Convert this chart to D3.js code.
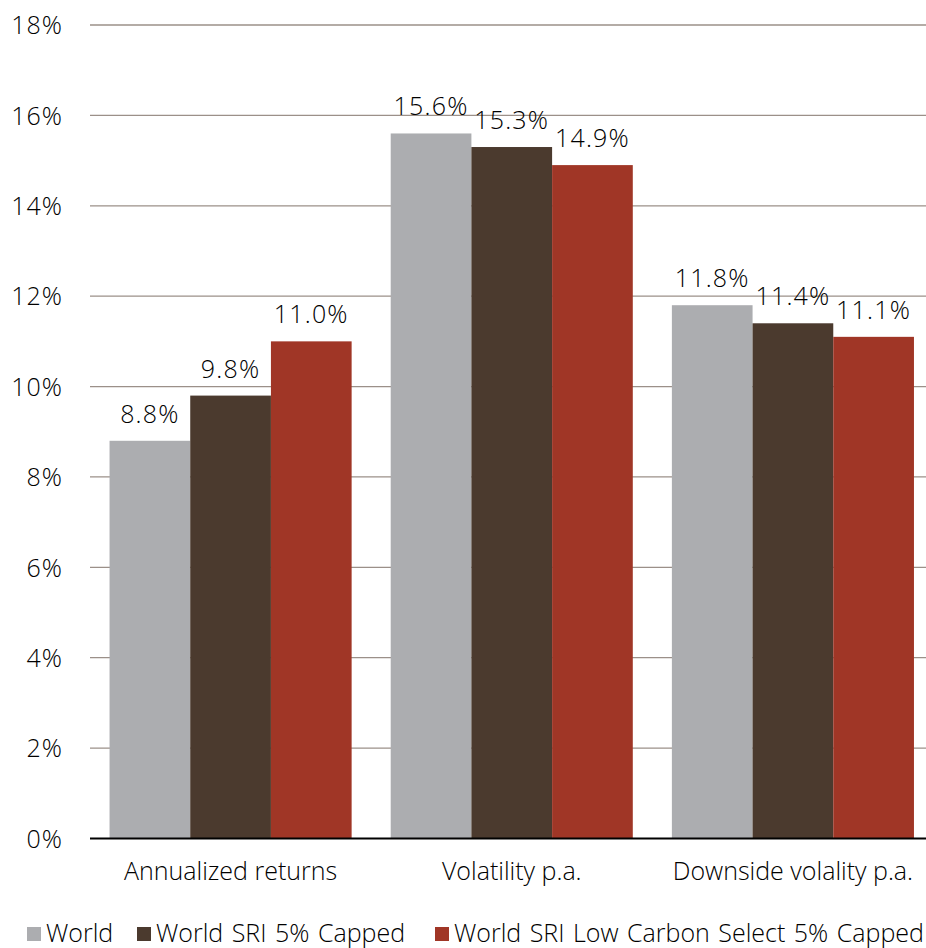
<!DOCTYPE html>
<html>
<head>
<meta charset="utf-8">
<script src="https://cdn.jsdelivr.net/npm/d3@7/dist/d3.min.js"></script>
<style>
  html, body { margin: 0; padding: 0; background: #fff; }
  svg { display: block; }
  svg text { font-family: "Open Sans", "Noto Sans", sans-serif; font-weight: 300; }
</style>
</head>
<body>
<svg id="chart" width="926" height="948"></svg>
<script>
// Performance and risk statistics, in percent
const categories = ["Annualized returns", "Volatility p.a.", "Downside volality p.a."];
const seriesNames = ["World", "World SRI 5% Capped", "World SRI Low Carbon Select 5% Capped"];
const world = [8.8, 15.6, 11.8];
const worldSri = [9.8, 15.3, 11.4];
const worldSriLowCarbon = [11.0, 14.9, 11.1];
const yTicks = [0, 2, 4, 6, 8, 10, 12, 14, 16, 18];
const colors = ["#acadb0", "#4b3a2e", "#a03626"];

const fontSize = 25;
const textColor = "#000";

const seriesValues = [world, worldSri, worldSriLowCarbon];
const rows = categories.map((c, i) => ({
  category: c,
  values: seriesNames.map((s, j) => ({ series: s, idx: j, value: seriesValues[j][i] }))
}));

const svg = d3.select("#chart");
const plotLeft = 90, plotRight = 933.5, plotTop = 25, plotBottom = 838.5;

const x0 = d3.scaleBand().domain(categories).range([plotLeft, plotRight]).paddingInner(0.139).paddingOuter(0.0695);
const x1 = d3.scaleBand().domain(seriesNames).range([0, x0.bandwidth()]).padding(0);
const y = d3.scaleLinear().domain([0, 18]).range([plotBottom, plotTop]);

// horizontal gridlines
svg.append("g")
  .selectAll("line")
  .data(yTicks.filter(t => t > 0))
  .join("line")
  .attr("x1", plotLeft).attr("x2", 926)
  .attr("y1", d => y(d)).attr("y2", d => y(d))
  .attr("stroke", "#9b9089").attr("stroke-width", 1.3);

// y axis labels
const yAxis = d3.axisLeft(y).tickValues(yTicks).tickFormat(d => d + "%").tickSize(0).tickPadding(0);
const ya = svg.append("g").attr("transform", `translate(63,0)`).call(yAxis)
  .attr("font-family", null).attr("font-size", null);
ya.select(".domain").remove();
ya.selectAll("text").attr("font-size", fontSize).attr("fill", textColor)
  .attr("letter-spacing", 1).attr("dy", "0.35em");

// bars
const groups = svg.append("g").selectAll("g")
  .data(rows).join("g")
  .attr("transform", d => `translate(${x0(d.category)},0)`);

groups.selectAll("rect")
  .data(d => d.values).join("rect")
  .attr("x", d => x1(d.series))
  .attr("width", x1.bandwidth())
  .attr("y", d => y(d.value))
  .attr("height", d => y(0) - y(d.value))
  .attr("fill", d => colors[d.idx]);

groups.selectAll("text")
  .data(d => d.values).join("text")
  .attr("x", d => x1(d.series) + x1.bandwidth() / 2)
  .attr("y", d => y(d.value) - 18)
  .attr("text-anchor", "middle")
  .attr("font-size", fontSize)
  .attr("letter-spacing", 1.2)
  .attr("fill", textColor)
  .text(d => d.value.toFixed(1) + "%");

// baseline axis
svg.append("line")
  .attr("x1", plotLeft).attr("x2", 926)
  .attr("y1", y(0)).attr("y2", y(0))
  .attr("stroke", "#000").attr("stroke-width", 2);

// category labels
const xAxis = d3.axisBottom(x0).tickSize(0).tickPadding(0);
const xa = svg.append("g").attr("transform", `translate(0,${plotBottom})`).call(xAxis)
  .attr("font-family", null).attr("font-size", null);
xa.select(".domain").remove();
xa.selectAll("text").attr("font-size", fontSize).attr("fill", textColor)
  .attr("dy", null).attr("y", 41);

// legend
const legendX = [27, 137, 435];
const legend = svg.append("g").selectAll("g")
  .data(seriesNames).join("g")
  .attr("transform", (d, i) => `translate(${legendX[i]},0)`);
legend.append("rect").attr("x", 0).attr("y", 927).attr("width", 14).attr("height", 14)
  .attr("fill", (d, i) => colors[i]);
legend.append("text").attr("x", 19).attr("y", 941.5).attr("font-size", fontSize).attr("fill", textColor)
  .attr("word-spacing", 2)
  .text(d => d);
</script>
</body>
</html>
